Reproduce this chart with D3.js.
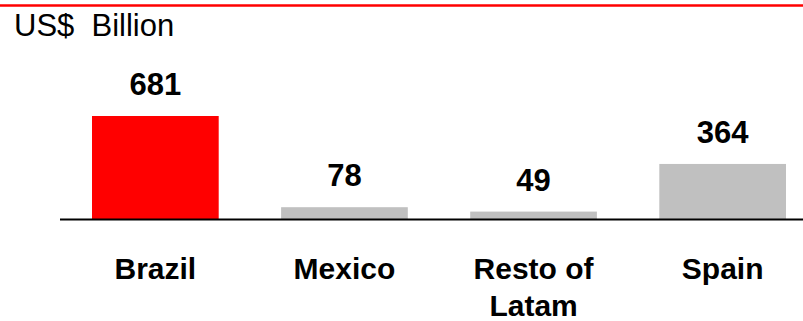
<!DOCTYPE html>
<html>
<head>
<meta charset="utf-8">
<script src="https://cdn.jsdelivr.net/npm/d3@7/dist/d3.min.js"></script>
<style>
  html, body { margin: 0; padding: 0; background: #fff; }
  svg { display: block; }
  text { font-family: "Liberation Sans", Arial, Helvetica, sans-serif; }
</style>
</head>
<body>
<div id="chart"></div>
<script>
const categories = ["Brazil", "Mexico", "Resto of Latam", "Spain"];
const categoryLabels = [["Brazil"], ["Mexico"], ["Resto of", "Latam"], ["Spain"]];
const values = [681, 78, 49, 364];
const barColors = ["#FF0000", "#C0C0C0", "#C0C0C0", "#C0C0C0"];
const unitLabel = "US$\u00a0\u00a0Billion";

const W = 803, H = 321;
const svg = d3.select("#chart").append("svg").attr("width", W).attr("height", H);

// top red rule
svg.append("line").attr("x1", 0).attr("x2", W).attr("y1", 5.5).attr("y2", 5.5)
  .attr("stroke", "#FF0000").attr("stroke-width", 2.6);

svg.append("text").attr("x", 14).attr("y", 36)
  .attr("font-size", 31).attr("fill", "#000").text(unitLabel);

const baseY = 219;
const x = d3.scaleBand().domain(categories).range([92, 786]).paddingInner(0.33).paddingOuter(0);
const y = d3.scaleLinear().domain([0, 681]).range([baseY, 116]);

svg.selectAll("rect.bar").data(categories).enter().append("rect")
  .attr("class", "bar")
  .attr("x", d => x(d))
  .attr("width", x.bandwidth())
  .attr("y", (d, i) => y(values[i]))
  .attr("height", (d, i) => y(0) - y(values[i]))
  .attr("fill", (d, i) => barColors[i]);

svg.selectAll("text.val").data(categories).enter().append("text")
  .attr("class", "val")
  .attr("x", d => x(d) + x.bandwidth() / 2)
  .attr("y", (d, i) => y(values[i]) - 21)
  .attr("text-anchor", "middle")
  .attr("font-size", 31).attr("font-weight", "bold").attr("fill", "#000")
  .text((d, i) => values[i]);

// axis baseline
svg.append("line").attr("x1", 60).attr("x2", W).attr("y1", baseY + 0.5).attr("y2", baseY + 0.5)
  .attr("stroke", "#000").attr("stroke-width", 2);

// category labels via axis
const axis = d3.axisBottom(x).tickSize(0).tickFormat("");
const gAxis = svg.append("g").attr("transform", `translate(0,${baseY})`).call(axis);
gAxis.select(".domain").remove();
gAxis.selectAll(".tick").each(function(d, i) {
  const t = d3.select(this).append("text")
    .attr("text-anchor", "middle")
    .attr("font-size", 30).attr("font-weight", "bold").attr("fill", "#000");
  categoryLabels[i].forEach((line, j) => {
    t.append("tspan").attr("x", 0).attr("y", 60 + j * 37).text(line);
  });
});
</script>
</body>
</html>
